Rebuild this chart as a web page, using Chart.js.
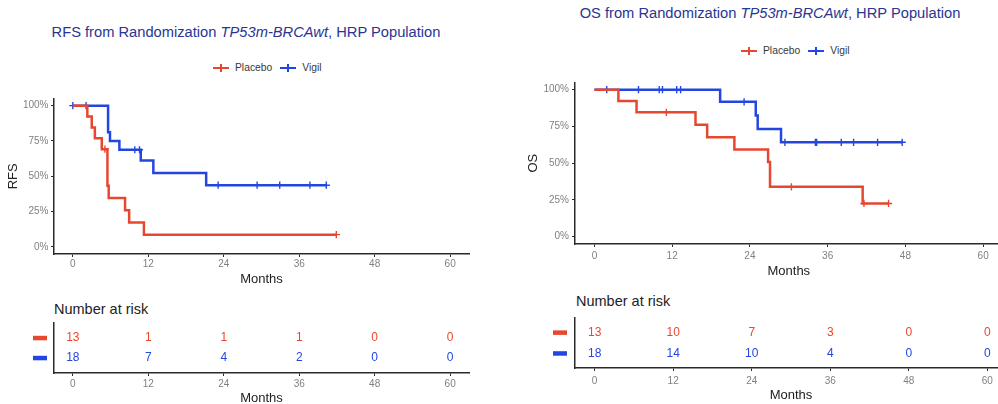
<!DOCTYPE html>
<html><head><meta charset="utf-8">
<script src="https://cdn.jsdelivr.net/npm/chart.js@4.4.0/dist/chart.umd.min.js"></script>
<style>
html,body{margin:0;padding:0;background:#fff;width:998px;height:404px;overflow:hidden;position:relative;font-family:"Liberation Sans",Arial,sans-serif;}
.abs{position:absolute;}
.title{font-size:14.7px;color:#2a3593;white-space:nowrap;line-height:18px;transform:translateX(-50%);}
.title i{font-style:italic;}
.leg{font-size:10.3px;color:#3a3a3a;white-space:nowrap;line-height:12px;display:flex;align-items:center;}
.mk{position:relative;display:inline-block;width:16px;height:8px;margin-right:6px;}
.mk::before{content:"";position:absolute;left:0;right:0;top:3px;height:2px;background:currentColor;}
.mk::after{content:"";position:absolute;left:7.25px;width:1.5px;top:0;bottom:0;background:currentColor;}
.lt{margin-right:8px;}
.nar{font-size:14.5px;color:#222;line-height:18px;white-space:nowrap;}
canvas{display:block;}
</style></head>
<body>
<div class="abs title" style="left:246px;top:23px;">RFS from Randomization <i>TP53m-BRCAwt</i>, HRP Population</div>
<div class="abs title" style="left:770px;top:4px;">OS from Randomization <i>TP53m-BRCAwt</i>, HRP Population</div>

<div class="abs leg" style="left:213px;top:62px;"><span class="mk" style="color:#E8472F"></span><span class="lt">Placebo</span><span class="mk" style="color:#2446E0"></span><span>Vigil</span></div>
<div class="abs leg" style="left:741px;top:45px;"><span class="mk" style="color:#E8472F"></span><span class="lt">Placebo</span><span class="mk" style="color:#2446E0"></span><span>Vigil</span></div>

<div class="abs" style="left:0;top:85px;width:480px;height:210px;"><canvas id="rfs" width="480" height="210"></canvas></div>
<div class="abs" style="left:510px;top:75px;width:498px;height:210px;"><canvas id="os" width="498" height="210"></canvas></div>

<div class="abs nar" style="left:54px;top:300px;">Number at risk</div>
<div class="abs nar" style="left:576px;top:292px;">Number at risk</div>

<div class="abs" style="left:0;top:315px;width:480px;height:95px;"><canvas id="rfsRisk" width="480" height="95"></canvas></div>
<div class="abs" style="left:510px;top:310px;width:498px;height:100px;"><canvas id="osRisk" width="498" height="100"></canvas></div>

<script>
// ---------- data ----------
const groups = ['Placebo', 'Vigil'];
const monthTicks = [0, 12, 24, 36, 48, 60];
const pctTicks = [0, 0.25, 0.5, 0.75, 1];
const pctLabels = ['0%', '25%', '50%', '75%', '100%'];

// RFS (Kaplan-Meier steps: time in months, survival probability)
const rfsPlaceboT = [0, 2.3, 3.0, 3.5, 4.6, 5.5, 5.7, 8.3, 8.95, 11.3, 41.9];
const rfsPlaceboS = [1, 0.923, 0.846, 0.769, 0.692, 0.433, 0.346, 0.260, 0.173, 0.087, 0.087];
const rfsPlaceboCensT = [5.1, 41.9];
const rfsPlaceboCensS = [0.692, 0.087];

const rfsVigilT = [0, 5.6, 5.9, 7.4, 10.8, 12.8, 21.2, 40.3];
const rfsVigilS = [1, 0.8125, 0.75, 0.688, 0.611, 0.524, 0.437, 0.437];
const rfsVigilCensT = [0, 2.1, 9.85, 10.6, 23.1, 29.3, 32.9, 37.7, 40.3];
const rfsVigilCensS = [1, 1, 0.688, 0.688, 0.437, 0.437, 0.437, 0.437, 0.437];

// OS
const osPlaceboT = [0, 3.7, 6.5, 15.6, 17.4, 21.6, 26.8, 27.1, 41.4, 45.4];
const osPlaceboS = [1, 0.923, 0.846, 0.762, 0.677, 0.593, 0.508, 0.339, 0.226, 0.226];
const osPlaceboCensT = [11.1, 30.4, 41.6, 45.4];
const osPlaceboCensS = [0.846, 0.339, 0.226, 0.226];

const osVigilT = [0, 19.4, 24.9, 25.2, 28.8, 47.5];
const osVigilS = [1, 0.917, 0.825, 0.733, 0.642, 0.642];
const osVigilCensT = [1.9, 6.8, 10.0, 10.5, 12.7, 13.3, 23.1, 29.4, 34.1, 34.3, 38.1, 40.0, 43.7, 47.5];
const osVigilCensS = [1, 1, 1, 1, 1, 1, 0.917, 0.642, 0.642, 0.642, 0.642, 0.642, 0.642, 0.642];

// Number at risk
const rfsRiskPlacebo = [13, 1, 1, 1, 0, 0];
const rfsRiskVigil = [18, 7, 4, 2, 0, 0];
const osRiskPlacebo = [13, 10, 7, 3, 0, 0];
const osRiskVigil = [18, 14, 10, 4, 0, 0];

// ---------- style ----------
const RED = '#E8472F', BLUE = '#2446E0';
const FONT = '"Liberation Sans", Arial, sans-serif';
const TICK_GRAY = '#808080';
const AXIS = '#2a2a2a';

const pts = (t, s) => t.map((v, i) => ({x: v, y: s[i]}));

function xScale(h, titlePadBottom, tickPad) {
  return {
    type: 'linear', min: -3, max: 63,
    afterBuildTicks: s => { s.ticks = monthTicks.map(v => ({value: v})); },
    afterFit: s => { s.height = h; s.paddingLeft = 0; s.paddingRight = 0; },
    ticks: {font: {family: FONT, size: 10}, color: TICK_GRAY, padding: tickPad, maxRotation: 0, autoSkip: false,
            callback: (v, i) => String(monthTicks[i])},
    grid: {display: true, drawOnChartArea: false, drawTicks: true, tickLength: 3, tickColor: AXIS, tickWidth: 1},
    border: {display: true, color: AXIS, width: 1.5},
    title: {display: true, text: 'Months', color: '#222', font: {family: FONT, size: 13}, padding: {top: 0, bottom: titlePadBottom}}
  };
}

function makeKM(id, o) {
  new Chart(document.getElementById(id), {
    type: 'line',
    data: {
      datasets: [
        {label: groups[0], data: pts(o.pT, o.pS), stepped: true, borderColor: RED, borderWidth: 2.5, pointRadius: 0, fill: false},
        {label: groups[0] + ' censored', type: 'scatter', data: pts(o.pCT, o.pCS), pointStyle: 'cross', pointRadius: 3.6, borderColor: RED, borderWidth: 1.4, backgroundColor: RED},
        {label: groups[1], data: pts(o.vT, o.vS), stepped: true, borderColor: BLUE, borderWidth: 2.5, pointRadius: 0, fill: false},
        {label: groups[1] + ' censored', type: 'scatter', data: pts(o.vCT, o.vCS), pointStyle: 'cross', pointRadius: 3.6, borderColor: BLUE, borderWidth: 1.4, backgroundColor: BLUE}
      ]
    },
    options: {
      responsive: false, animation: false, devicePixelRatio: 1,
      layout: {padding: o.pad},
      plugins: {legend: {display: false}, tooltip: {enabled: false}, title: {display: false}},
      scales: {
        x: xScale(o.xH, o.xTitlePad, o.xTickPad),
        y: {
          type: 'linear', min: -0.05, max: 1.05,
          afterBuildTicks: s => { s.ticks = pctTicks.map(v => ({value: v})); },
          afterFit: s => { s.width = o.yW; s.paddingTop = 0; s.paddingBottom = 0; },
          ticks: {font: {family: FONT, size: 10}, color: TICK_GRAY, padding: o.yTickPad, callback: (v, i) => pctLabels[i]},
          grid: {display: true, drawOnChartArea: false, drawTicks: true, tickLength: 3, tickColor: AXIS, tickWidth: 1},
          border: {display: true, color: AXIS, width: 1.5},
          title: {display: true, text: o.yTitle, color: '#222', font: {family: FONT, size: 13}, padding: {top: o.yTitlePad, bottom: 0}}
        }
      }
    }
  });
}

function riskPlugin(rows, barOff) {
  return {
    id: 'riskTable',
    afterDraw(chart) {
      const {ctx, chartArea, scales} = chart;
      ctx.save();
      rows.forEach((row, ri) => {
        const py = scales.y.getPixelForValue(ri);
        ctx.fillStyle = row.color;
        ctx.fillRect(chartArea.left - barOff - 14, py - 2.2, 14, 4.5);
        ctx.font = '12px ' + FONT;
        ctx.textAlign = 'center';
        ctx.textBaseline = 'middle';
        row.values.forEach((v, i) => ctx.fillText(String(v), scales.x.getPixelForValue(monthTicks[i]), py));
      });
      ctx.restore();
    }
  };
}

function makeRisk(id, o) {
  new Chart(document.getElementById(id), {
    type: 'scatter',
    data: {datasets: []},
    options: {
      responsive: false, animation: false, devicePixelRatio: 1,
      layout: {padding: o.pad},
      plugins: {legend: {display: false}, tooltip: {enabled: false}},
      scales: {
        x: xScale(o.xH, o.xTitlePad, o.xTickPad),
        y: {
          type: 'linear', reverse: true, min: o.yMin, max: o.yMax,
          afterBuildTicks: s => { s.ticks = groups.map((g, i) => ({value: i})); },
          afterFit: s => { s.width = o.yW; s.paddingTop = 0; s.paddingBottom = 0; },
          ticks: {display: false},
          grid: {display: false},
          border: {display: true, color: AXIS, width: 1.5}
        }
      }
    },
    plugins: [riskPlugin([{color: RED, values: o.p}, {color: BLUE, values: o.v}], o.barOff)]
  });
}

makeKM('rfs', {
  pT: rfsPlaceboT, pS: rfsPlaceboS, pCT: rfsPlaceboCensT, pCS: rfsPlaceboCensS,
  vT: rfsVigilT, vS: rfsVigilS, vCT: rfsVigilCensT, vCS: rfsVigilCensS,
  pad: {top: 13.6, right: 11, left: 0, bottom: 0}, yW: 54, xH: 41, xTitlePad: 7.9, xTickPad: 1,
  yTickPad: 2.5, yTitle: 'RFS', yTitlePad: 5.5
});
makeKM('os', {
  pT: osPlaceboT, pS: osPlaceboS, pCT: osPlaceboCensT, pCS: osPlaceboCensS,
  vT: osVigilT, vS: osVigilS, vCT: osVigilCensT, vCS: osVigilCensS,
  pad: {top: 7.3, right: 1, left: 0, bottom: 0}, yW: 65, xH: 41, xTitlePad: 5.5, xTickPad: 3,
  yTickPad: 3, yTitle: 'OS', yTitlePad: 15.2
});
makeRisk('rfsRisk', {
  p: rfsRiskPlacebo, v: rfsRiskVigil,
  pad: {top: 8, right: 11, left: 0, bottom: 0}, yW: 54, xH: 37, xTitlePad: 3.9, xTickPad: 2.5,
  yMin: -0.75, yMax: 1.75, barOff: 7
});
makeRisk('osRisk', {
  p: osRiskPlacebo, v: osRiskVigil,
  pad: {top: 8, right: 1, left: 0, bottom: 0}, yW: 65, xH: 42, xTitlePad: 7.2, xTickPad: 4,
  yMin: -0.7, yMax: 1.7, barOff: 8
});
</script>
</body></html>
